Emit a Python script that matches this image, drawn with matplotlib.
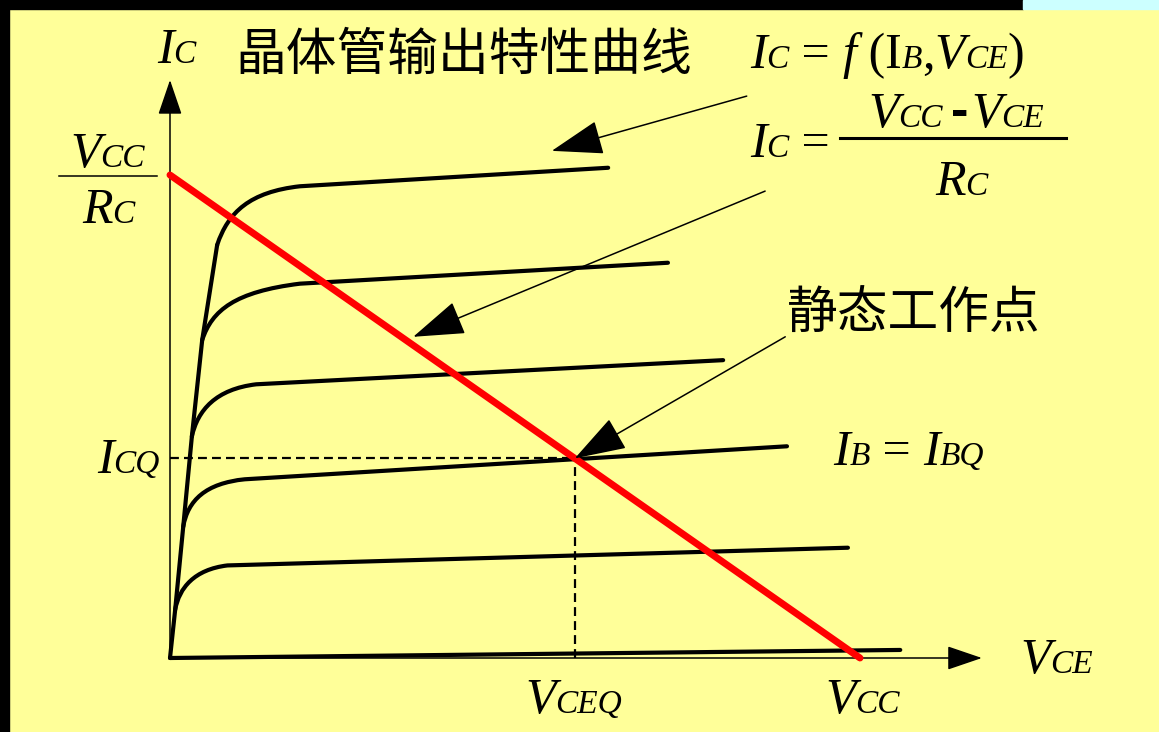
import matplotlib
matplotlib.use("Agg")
import matplotlib.pyplot as plt
from matplotlib.path import Path
from matplotlib.patches import PathPatch, Rectangle
from matplotlib.transforms import IdentityTransform

W, H = 1159, 732

# supply voltage, load-line intercept and quiescent point
VCC = 12.0
IC_SAT = 6.0                      # Vcc / Rc
VCEQ = 7.04
ICQ = IC_SAT * (1 - VCEQ / VCC)

# output characteristics, one entry per base current (lowest first):
# start on the saturation edge, two bezier handles, end of knee, end of flat part
curve_start = [(0.09, 0.60), (0.23, 1.63), (0.38, 2.75), (0.56, 3.95), (0.82, 5.13)]
knee_c1 = [(0.16, 0.87), (0.31, 1.96), (0.48, 3.08), (0.73, 4.32), (1.01, 5.54)]
knee_c2 = [(0.42, 1.10), (0.62, 2.17), (0.80, 3.34), (1.13, 4.55), (1.39, 5.79)]
knee_end = [(1.00, 1.15), (1.30, 2.22), (1.50, 3.40), (2.26, 4.65), (2.26, 5.86)]
curve_end = [(11.79, 1.37), (10.73, 2.63), (9.62, 3.70), (8.66, 4.91), (7.62, 6.09)]

# IB = 0 cutoff curve
cutoff_v = [0.0, 12.7]
cutoff_i = [0.0, 0.10]

# callout arrows: (tail, tip)
callouts = [((10.03, 6.98), (6.64, 6.30)),
            ((10.35, 5.80), (4.23, 3.99)),
            ((10.70, 3.99), (VCEQ, ICQ))]

BG = "#FFFF99"
SERIF = "Liberation Serif"
CJK = "Noto Sans CJK SC"

fig = plt.figure(figsize=(W / 100, H / 100), dpi=100, facecolor=BG)
ax = fig.add_axes([0, 0, 1, 1])
ax.set_facecolor("none")
ax.axis("off")
ax.set_xlim(-170 / 57.5, (W - 170) / 57.5)
ax.set_ylim((658 - H) / 80.5, 658 / 80.5)

# slide frame: black strips on the left and top, cyan corner
fig.patches.append(Rectangle((0, 0), 9 / W, 1, transform=fig.transFigure, color="black", zorder=0))
fig.patches.append(Rectangle((0, 1 - 9 / H), 1023 / W, 9 / H, transform=fig.transFigure, color="black", zorder=0))
fig.patches.append(Rectangle((1023 / W, 1 - 9 / H), 1, 9 / H, transform=fig.transFigure, color="#CCFFFF", zorder=0))

# axes with arrow heads
axis_kw = dict(arrowstyle="-|>,head_length=2.2,head_width=0.75", color="black",
               lw=1.1, shrinkA=0, shrinkB=0, mutation_scale=10)
ax.annotate("", xy=(0, 7.18), xytext=(0, 0), arrowprops=axis_kw)
ax.annotate("", xy=(14.12, 0), xytext=(0, 0), arrowprops=axis_kw)

# saturation edge and characteristic curves
sat_v = [0.0] + [p[0] for p in curve_start]
sat_i = [0.0] + [p[1] for p in curve_start]
ax.plot(sat_v, sat_i, color="black", lw=3, solid_joinstyle="round", solid_capstyle="round")
for p0, c1, c2, p3, pe in zip(curve_start, knee_c1, knee_c2, knee_end, curve_end):
    path = Path([p0, c1, c2, p3, pe],
                [Path.MOVETO, Path.CURVE4, Path.CURVE4, Path.CURVE4, Path.LINETO])
    ax.add_patch(PathPatch(path, fill=False, lw=3, edgecolor="black",
                           capstyle="round", joinstyle="round"))
ax.plot(cutoff_v, cutoff_i, color="black", lw=3, solid_capstyle="round")

# Q-point guides
ax.plot([0, VCEQ], [ICQ, ICQ], color="black", lw=1.6, dashes=(4, 2.3))
ax.plot([VCEQ, VCEQ], [0, ICQ], color="black", lw=1.6, dashes=(4, 2.3))

# DC load line
ax.plot([0, VCC], [IC_SAT, 0], color="#FF0000", lw=5, solid_capstyle="round", zorder=5)

# callout arrows
for tail, tip in callouts:
    ax.annotate("", xy=tip, xytext=tail,
                arrowprops=dict(arrowstyle="-|>,head_length=3.3,head_width=1.1",
                                color="black", lw=1.1, shrinkA=0, shrinkB=0,
                                mutation_scale=10), zorder=6)

renderer = fig.canvas.get_renderer()
BIG, SMALL = 36, 24


def runs(x, y, parts):
    # draw text pieces left to right on one baseline; x, y in pixels from top-left
    for part in parts:
        s, size, style = part[:3]
        extra = part[3] if len(part) > 3 else {}
        kw = dict(family=SERIF, fontsize=size, style=style, va="baseline", ha="left")
        kw.update(extra)
        t = fig.text(x, H - y, s, transform=IdentityTransform(), **kw)
        x += t.get_window_extent(renderer).width


it, up = "italic", "normal"

runs(157, 63, [("I", BIG, it), ("C", SMALL, it)])
fig.text(235, H - 70, "晶体管输出特性曲线", transform=IdentityTransform(),
         family=CJK, fontsize=36.5, weight="light", va="baseline", ha="left")
fig.text(787, H - 328, "静态工作点", transform=IdentityTransform(),
         family=CJK, fontsize=36.5, weight="light", va="baseline", ha="left")

runs(750, 68, [("I", BIG, it), ("C", SMALL, it), (" = ", BIG, up), ("f", BIG, it),
               (" (I", BIG, up), ("B", SMALL, it), (",", BIG, up),
               ("V", BIG, it), ("CE", SMALL, it), (")", BIG, up)])

runs(750, 157, [("I", BIG, it), ("C", SMALL, it), (" =", BIG, up)])
runs(868, 127, [("V", BIG, it), ("CC", SMALL, it), (" ", SMALL, up),
                ("-", 38, up, dict(family="Liberation Sans", weight="bold")),
                (" ", 6, up), ("V", BIG, it), ("CE", SMALL, it)])
runs(935, 195, [("R", BIG, it), ("C", SMALL, it)])
fig.add_artist(plt.Line2D([840, 1066], [H - 138, H - 138], transform=IdentityTransform(),
                          color="black", lw=2.2))

runs(70, 167, [("V", BIG, it), ("CC", SMALL, it)])
runs(82, 223, [("R", BIG, it), ("C", SMALL, it)])
fig.add_artist(plt.Line2D([59, 157], [H - 176, H - 176], transform=IdentityTransform(),
                          color="black", lw=1.1))

runs(97, 473, [("I", BIG, it), ("CQ", SMALL, it)])
runs(833, 465, [("I", BIG, it), ("B", SMALL, it), (" = ", BIG, up),
                ("I", BIG, it), ("BQ", SMALL, it)])
runs(525, 713, [("V", BIG, it), ("CEQ", SMALL, it)])
runs(825, 713, [("V", BIG, it), ("CC", SMALL, it)])
runs(1020, 673, [("V", BIG, it), ("CE", SMALL, it)])

fig.savefig("out.png", dpi=100, facecolor=BG)
